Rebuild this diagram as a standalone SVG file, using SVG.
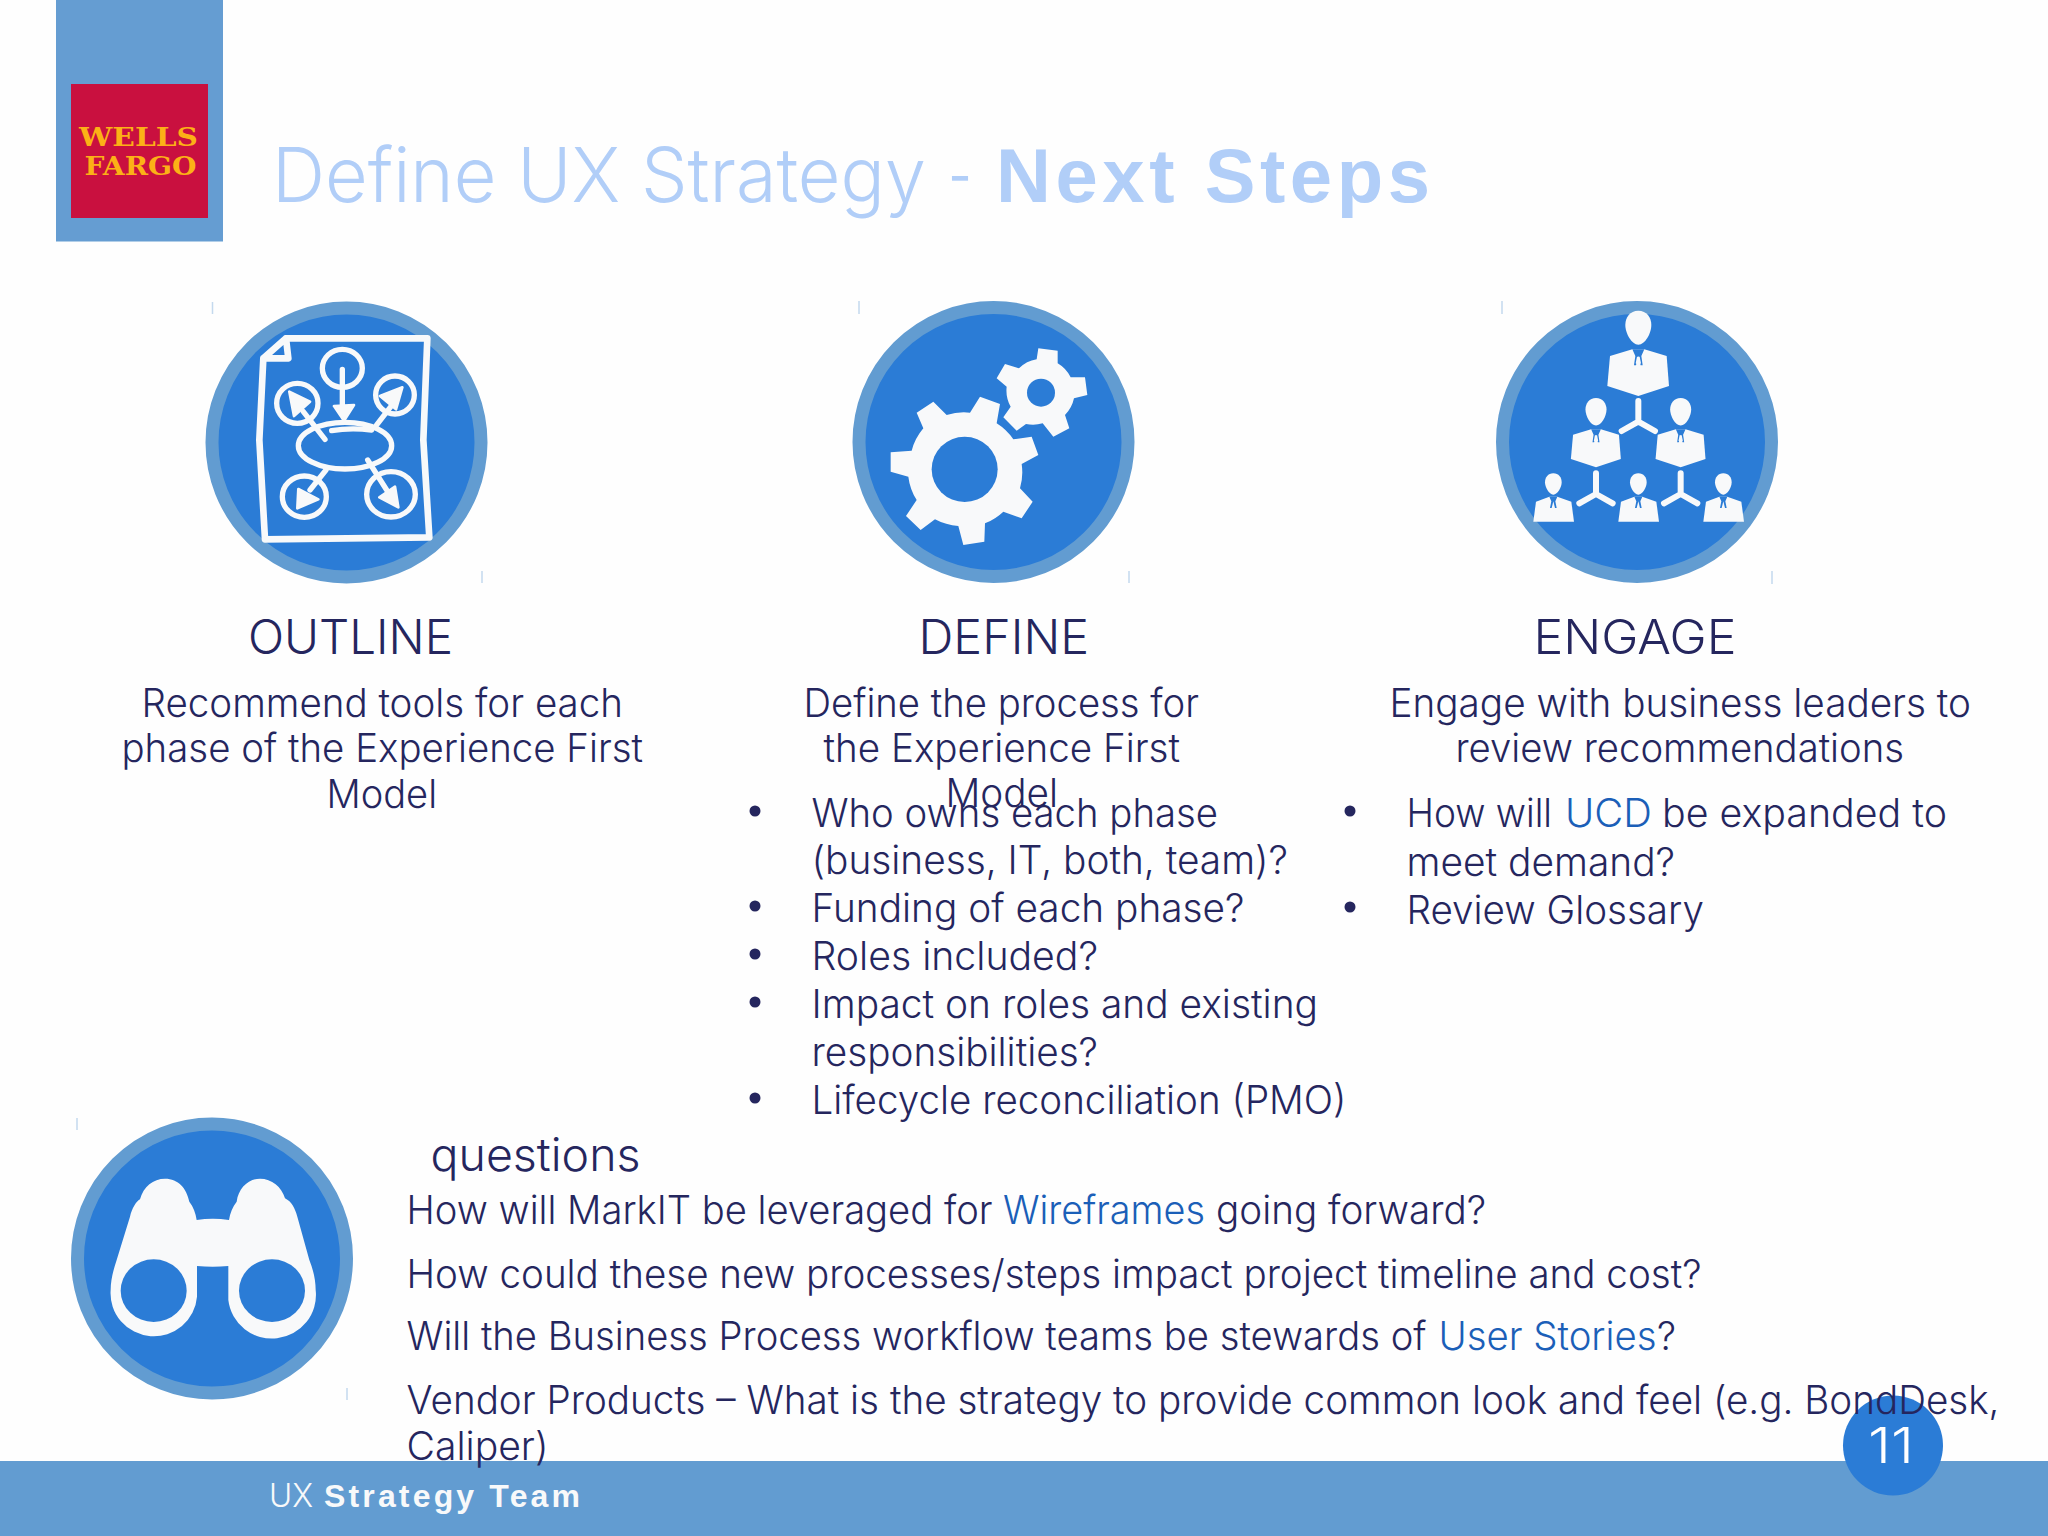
<svg xmlns="http://www.w3.org/2000/svg" width="2048" height="1536" viewBox="0 0 2048 1536">
<style>
text{font-family:"Inter","Liberation Sans",Arial,sans-serif;font-weight:300;fill:#25265e;white-space:pre}
.h{font-size:47.500px;transform:translateY(.7px)}
.b{font-size:39px;transform:translateY(.7px)}
.l{fill:#1b5fb8}
.w{fill:#f8f9fa}
.ws{fill:none;stroke:#f8f9fa;stroke-linecap:round;stroke-linejoin:round}
.ring{fill:#2b7cd6;stroke:#629cd1;stroke-width:13}
.tick{stroke:#c4d9ee;stroke-width:1.500}
.bu{fill:#25265e}
.i{fill:#2b7cd6}
.bold{font-family:"Liberation Sans",Arial,sans-serif;font-weight:700}
.serif{font-family:"DejaVu Serif","Liberation Serif",serif;font-weight:700;fill:#fcb116;font-size:26px}
</style>
<defs>
<g id="pBig">
<path class="w" d="M505 92C530 92 544 112 544 135C544 160 525 194 505 194C485 194 466 160 466 135C466 112 480 92 505 92Z"/>
<path class="w" d="M487 208L420 228L412 318L505 348L597 318L590 228L523 208Z"/>
<path class="i" d="M487 208L523 208L514 228L518 256L512 256L505 228L498 256L492 256L496 228Z"/>
<path class="w" d="M501 230L509 230L513 250L505 256L497 250Z"/>
</g>
<g id="pSmall">
<path class="w" d="M250 580C266 580 275 592 275 607C275 622 263 644 250 644C237 644 225 622 225 607C225 592 234 580 250 580Z"/>
<path class="w" d="M238 650L198 665L190 725L312 725L304 665L262 650Z"/>
<path class="i" d="M238 650L262 650L256 664L260 684L255 684L250 664L245 684L240 684L244 664Z"/>
</g>
<path id="yc" class="ws" stroke-width="18" d="M0 -62V0M0 0L-50 28M0 0L50 28"/>
</defs>
<rect width="2048" height="1536" fill="#fefefe"/>
<g id="logo">
<rect x="56" y="0" width="167" height="241.500" fill="#659dd2"/>
<rect x="71" y="84" width="137" height="134" fill="#c9103f"/>
<text class="serif" x="79" y="146" textLength="119" lengthAdjust="spacingAndGlyphs">WELLS</text>
<text class="serif" x="84.500" y="175" textLength="112" lengthAdjust="spacingAndGlyphs">FARGO</text>
</g>
<g id="title">
<text y="202" style="fill:#b1cef8;font-size:76px"><tspan x="272" textLength="654" lengthAdjust="spacingAndGlyphs">Define UX Strategy</tspan> <tspan x="948" textLength="24" lengthAdjust="spacingAndGlyphs">-</tspan> <tspan x="996" class="bold" style="fill:#b1cef8;font-size:76px" textLength="434" lengthAdjust="spacing">Next Steps</tspan></text>
</g>
<g id="outline">
<circle class="ring" cx="346.500" cy="442.500" r="134.500"/>
<path class="tick" d="M212.500 302V314M482 571V583"/>
<g transform="translate(190 290) scale(.33333)">
<path class="ws" stroke-width="20" d="M288 145L712 145L700 450L718 742L225 748L208 450L220 205ZM288 145L295 205L220 205"/>
<g class="ws" stroke-width="16">
<ellipse cx="457" cy="235" rx="60" ry="57"/>
<ellipse cx="322" cy="340" rx="62" ry="60"/>
<ellipse cx="615" cy="315" rx="58" ry="57"/>
<ellipse cx="343" cy="620" rx="66" ry="62"/>
<ellipse cx="603" cy="613" rx="73" ry="68"/>
<ellipse cx="465" cy="467" rx="140" ry="70"/>
<path d="M457 238V350M405 448L340 365M560 405L610 340M408 540L360 600M533 510L590 600M425 422Q480 412 545 420"/>
</g>
<path class="w" stroke="#f8f9fa" stroke-width="8" stroke-linejoin="round" d="M432 348L492 345L462 392ZM298 305L360 335L312 378ZM637 292L570 318L618 358ZM322 655L325 597L385 628ZM625 652L568 622L615 590Z"/>
</g>
<text class="h" y="653" x="248" textLength="205" lengthAdjust="spacingAndGlyphs">OUTLINE</text>
<text class="b" y="716" x="141.500" textLength="481.500" lengthAdjust="spacingAndGlyphs">Recommend tools for each</text>
<text class="b" y="761" x="121.500" textLength="521.500" lengthAdjust="spacingAndGlyphs">phase of the Experience First</text>
<text class="b" y="807" x="326.500" textLength="110.500" lengthAdjust="spacingAndGlyphs">Model</text>
</g>
<g id="define">
<circle class="ring" cx="993.500" cy="442" r="134.500"/>
<path class="tick" d="M859 301V314M1129 571V583"/>
<g transform="translate(820 280) scale(.33333)">
<path class="w" d="M290 398L340 365L380 405A170 170 0 0 1 450 398L480 350L540 372L530 430A170 170 0 0 1 580 478L635 470L655 525L605 552A170 170 0 0 1 600 625L638 665L605 715L550 695A170 170 0 0 1 495 730L493 785L430 795L415 738A170 170 0 0 1 345 718L302 750L258 708L290 660A170 170 0 0 1 265 590L212 575L212 517L275 512A170 170 0 0 1 310 445Z"/>
<ellipse class="i" cx="434" cy="568" rx="99" ry="98"/>
<path class="w" d="M530 295L555 252L597 265A100 100 0 0 1 650 238L655 205L713 212L713 250A100 100 0 0 1 752 292L795 292L802 345L762 355A100 100 0 0 1 735 405L748 445L700 470L668 430A100 100 0 0 1 618 432L590 452L550 412L572 380A100 100 0 0 1 560 320Z"/>
<circle class="i" cx="663" cy="338" r="42"/>
</g>
<text class="h" y="653" x="918.500" textLength="170.500" lengthAdjust="spacingAndGlyphs">DEFINE</text>
<text class="b" y="716" x="803.500" textLength="395.500" lengthAdjust="spacingAndGlyphs">Define the process for</text>
<text class="b" y="761" x="823.500" textLength="356.500" lengthAdjust="spacingAndGlyphs">the Experience First</text>
<text class="b" y="806" x="945.500" textLength="112.500" lengthAdjust="spacingAndGlyphs">Model</text>
<g class="bu"><circle cx="755" cy="811" r="5.500"/><circle cx="755" cy="906" r="5.500"/><circle cx="755" cy="954" r="5.500"/><circle cx="755" cy="1002" r="5.500"/><circle cx="755" cy="1098" r="5.500"/></g>
<text class="b" y="826" x="811.500" textLength="406.500" lengthAdjust="spacingAndGlyphs">Who owns each phase</text>
<text class="b" y="873.500" x="811.500" textLength="476.500" lengthAdjust="spacingAndGlyphs">(business, IT, both, team)?</text>
<text class="b" y="921" x="811.500" textLength="433" lengthAdjust="spacingAndGlyphs">Funding of each phase?</text>
<text class="b" y="969" x="811.500" textLength="286.500" lengthAdjust="spacingAndGlyphs">Roles included?</text>
<text class="b" y="1017" x="811.500" textLength="506.500" lengthAdjust="spacingAndGlyphs">Impact on roles and existing</text>
<text class="b" y="1065" x="811.500" textLength="286.500" lengthAdjust="spacingAndGlyphs">responsibilities?</text>
<text class="b" y="1113" x="811.500" textLength="535" lengthAdjust="spacingAndGlyphs">Lifecycle reconciliation (PMO)</text>
</g>
<g id="engage">
<circle class="ring" cx="1637" cy="442" r="134.500"/>
<path class="tick" d="M1502 301V314M1772 571V584"/>
<g transform="translate(1470 280) scale(.33333)">
<use href="#pBig"/>
<use href="#pBig" transform="translate(378 448) scale(.81) translate(-505 -208)"/>
<use href="#pBig" transform="translate(632 448) scale(.81) translate(-505 -208)"/>
<use href="#pSmall"/>
<use href="#pSmall" transform="translate(255 0)"/>
<use href="#pSmall" transform="translate(510 0)"/>
<use href="#yc" transform="translate(505 425)"/>
<use href="#yc" transform="translate(378 642)"/>
<use href="#yc" transform="translate(632 642)"/>
</g>
<text class="h" y="653" x="1533.500" textLength="203" lengthAdjust="spacingAndGlyphs">ENGAGE</text>
<text class="b" y="716" x="1389.500" textLength="581.500" lengthAdjust="spacingAndGlyphs">Engage with business leaders to</text>
<text class="b" y="761" x="1455.500" textLength="448.500" lengthAdjust="spacingAndGlyphs">review recommendations</text>
<g class="bu"><circle cx="1350" cy="811" r="5.500"/><circle cx="1350" cy="907" r="5.500"/></g>
<text class="b" y="826"><tspan x="1406.500" textLength="145.500" lengthAdjust="spacingAndGlyphs">How will</tspan> <tspan x="1565" class="l" textLength="87" lengthAdjust="spacingAndGlyphs">UCD</tspan> <tspan x="1662" textLength="285" lengthAdjust="spacingAndGlyphs">be expanded to</tspan></text>
<text class="b" y="875" x="1406.500" textLength="268.500" lengthAdjust="spacingAndGlyphs">meet demand?</text>
<text class="b" y="923" x="1406.500" textLength="297.500" lengthAdjust="spacingAndGlyphs">Review Glossary</text>
</g>
<g id="footer">
<rect x="0" y="1461" width="2048" height="75" fill="#629cd1"/>
<text y="1507" style="font-size:32px;fill:#f8f9fa"><tspan x="269" textLength="44" lengthAdjust="spacingAndGlyphs">UX</tspan> <tspan x="324" class="bold" style="fill:#f8f9fa;font-size:32px" textLength="256" lengthAdjust="spacing">Strategy Team</tspan></text>
</g>
<g id="page-number">
<circle cx="1893" cy="1445.500" r="50" fill="#2b7cd6"/>
<text x="1868" y="1463" style="font-size:49px;fill:#fff" textLength="46" lengthAdjust="spacingAndGlyphs">11</text>
</g>
<g id="questions">
<circle class="ring" cx="212" cy="1258.500" r="134.500"/>
<path class="tick" d="M77 1118V1130M347 1388V1400"/>
<g transform="translate(50 1100) scale(.33333)">
<path class="w" d="M182 570C182 540 190 510 200 480L240 350C246 325 258 305 270 298C280 260 310 236 345 236C385 236 410 265 418 305C430 320 437 340 440 360Q488 352 537 360C540 340 548 320 560 305C565 265 595 236 630 236C665 236 695 260 705 295C725 305 735 325 742 350L778 480C790 510 797 540 797 570A131 130 0 0 1 535 600L535 498Q488 503 441 498L441 590A129 128 0 0 1 182 570Z"/>
<ellipse class="i" cx="311" cy="572" rx="99" ry="94"/>
<ellipse class="i" cx="666" cy="572" rx="99" ry="94"/>
</g>
<text y="1170.500" x="430.500" style="font-size:46px" textLength="210" lengthAdjust="spacingAndGlyphs">questions</text>
<text class="b" y="1223"><tspan x="406.500" textLength="586" lengthAdjust="spacingAndGlyphs">How will MarkIT be leveraged for</tspan> <tspan x="1003" class="l" textLength="202" lengthAdjust="spacingAndGlyphs">Wireframes</tspan> <tspan x="1216" textLength="270" lengthAdjust="spacingAndGlyphs">going forward?</tspan></text>
<text class="b" y="1287" x="406.500" textLength="1295" lengthAdjust="spacingAndGlyphs">How could these new processes/steps impact project timeline and cost?</text>
<text class="b" y="1349"><tspan x="406.500" textLength="1020" lengthAdjust="spacingAndGlyphs">Will the Business Process workflow teams be stewards of</tspan> <tspan x="1438.500" class="l" textLength="218" lengthAdjust="spacingAndGlyphs">User Stories</tspan><tspan x="1657" textLength="19" lengthAdjust="spacingAndGlyphs">?</tspan></text>
<text class="b" y="1413" x="406.500" textLength="1593" lengthAdjust="spacingAndGlyphs">Vendor Products – What is the strategy to provide common look and feel (e.g. BondDesk,</text>
<text class="b" y="1459" x="406.500" textLength="142" lengthAdjust="spacingAndGlyphs">Caliper)</text>
</g>
</svg>
